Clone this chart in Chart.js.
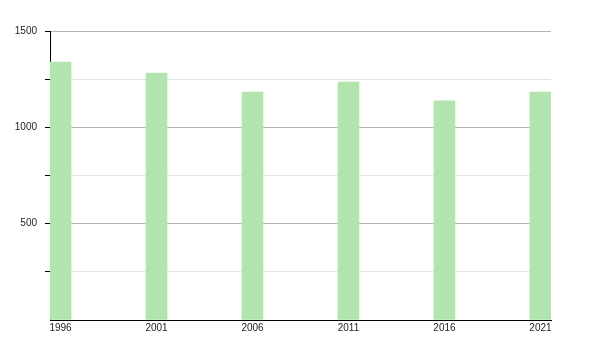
<!DOCTYPE html>
<html>
<head>
<meta charset="utf-8">
<script src="https://cdn.jsdelivr.net/npm/chart.js@4/dist/chart.umd.min.js"></script>
<style>
html,body{margin:0;padding:0;background:#fff;}
#c{display:block;}
</style>
</head>
<body>
<canvas id="c" width="600" height="350"></canvas>
<script>
const years = [1996, 2001, 2006, 2011, 2016, 2021];
const values = [1339, 1282, 1183, 1235, 1137, 1183];
const yTicks = [500, 1000, 1500];

const OFF = 0.55;
const points = years.map((y, i) => ({x: y + OFF, y: values[i]}));

new Chart(document.getElementById('c'), {
  type: 'bar',
  data: {
    datasets: [{
      data: points,
      backgroundColor: 'rgba(178,228,174,1)',
      borderWidth: 0,
      barThickness: 21
    }]
  },
  options: {
    responsive: false,
    animation: false,
    layout: {padding: {left: 0, right: 49, top: 31, bottom: 0}},
    plugins: {legend: {display: false}, tooltip: {enabled: false}},
    scales: {
      x: {
        type: 'linear',
        offset: false,
        min: 1996,
        max: 2022.1,
        afterBuildTicks: (axis) => { axis.ticks = years.map(y => ({value: y + OFF})); },
        afterFit: (axis) => { axis.height = 30; },
        grid: {display: true, offset: false, drawOnChartArea: false, drawTicks: false},
        border: {display: true, color: '#000', width: 1},
        ticks: {
          autoSkip: false,
          maxRotation: 0,
          padding: 2,
          color: '#222',
          font: {family: 'Liberation Sans, Arial, sans-serif', size: 10},
          callback: (v) => String(Math.round(v - OFF))
        }
      },
      y: {
        min: 0,
        max: 1500,
        afterFit: (axis) => { axis.width = 50; },
        afterBuildTicks: (axis) => { axis.ticks = [0, 250, 500, 750, 1000, 1250, 1500].map(v => ({value: v})); },
        border: {display: true, color: '#000', width: 1},
        grid: {
          color: (ctx) => ctx.tick.value === 0 ? 'rgba(0,0,0,0)' : (yTicks.includes(ctx.tick.value) ? '#b4b4b4' : '#e4e4e4'),
          tickColor: (ctx) => ctx.tick.value === 0 ? 'rgba(0,0,0,0)' : '#000',
          tickLength: 5,
          lineWidth: 1
        },
        ticks: {
          padding: 8,
          color: '#222',
          font: {family: 'Liberation Sans, Arial, sans-serif', size: 10},
          callback: (v) => yTicks.includes(v) ? String(v) : ''
        }
      }
    }
  }
});
</script>
</body>
</html>
